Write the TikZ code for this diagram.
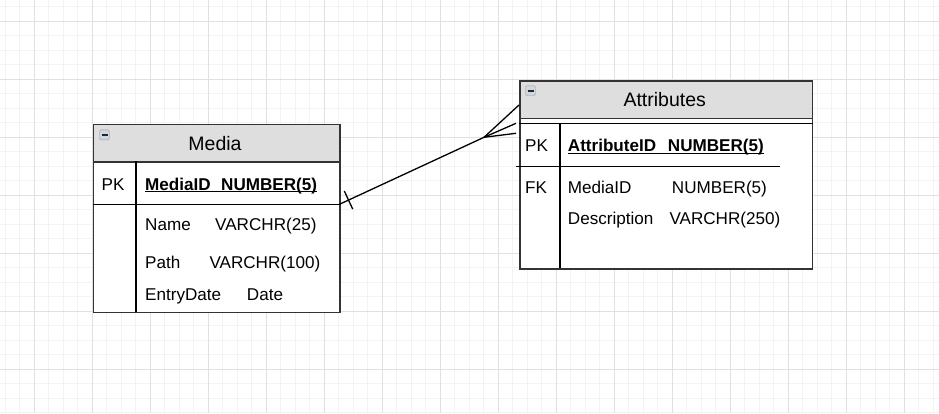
\documentclass[tikz,border=0pt]{standalone}
\usepackage{fontspec}
\setmainfont{Liberation Sans}
\usetikzlibrary{calc}
\definecolor{gridminor}{RGB}{243,243,243}
\definecolor{gridmajor}{RGB}{224,224,224}
\definecolor{headgrey}{RGB}{222,222,222}
\definecolor{frame}{RGB}{51,51,51}
\definecolor{iconfill}{RGB}{206,214,222}
\newcommand{\bodyfont}{\fontsize{17.1}{19}\selectfont}
\newcommand{\titlefont}{\fontsize{19.5}{21}\selectfont}
\tikzset{
  minorln/.style ={draw=gridminor, line width=1pt},
  majorln/.style ={draw=gridmajor, line width=1pt},
  tbl/.style     ={draw=frame, line width=1.6pt, fill=white, anchor=north west, inner sep=0pt},
  hdr/.style     ={draw=frame, line width=1.6pt, fill=headgrey, anchor=north west, inner sep=0pt},
  sep/.style     ={draw=black, line width=1.5pt},
  txt/.style     ={anchor=base west, inner sep=0pt, font=\bodyfont},
  btxt/.style    ={anchor=base west, inner sep=0pt, font=\bodyfont\bfseries},
  ttl/.style     ={anchor=base, inner sep=0pt, font=\titlefont},
  link/.style    ={draw=black, line width=1.3pt},
  icon/.style    ={draw=gray!80, fill=iconfill, rounded corners=1.5pt, minimum width=10pt,
                   minimum height=10pt, inner sep=0pt, anchor=north west},
}

\begin{document}
\begin{tikzpicture}[x=1pt,y=-1pt]
\useasboundingbox (0,0) rectangle (939,413);
% background grid
\foreach \i in {0,...,64} \draw[minorln] ({5+14.5*\i},0) -- ++(0,413);
\foreach \j in {0,...,28} \draw[minorln] (0,{6.8+14.5*\j}) -- ++(939,0);
\foreach \i in {0,...,15} \draw[majorln] ({34+58*\i},0) -- ++(0,413);
\foreach \j in {0,...,6} \draw[majorln] (0,{21.3+58*\j}) -- ++(939,0);

% Media table
\node[tbl, minimum width=246.5pt, minimum height=188pt] (mediabox) at (92.5,123.5) {};
\node[hdr, minimum width=246.5pt, minimum height=37.5pt] (mediahead) at (92.5,123.5) {};
\node[icon] (mediaicon) at (99.3,129.7) {};
\draw[line width=1.6pt, draw=black!85] ([xshift=2.2pt]mediaicon.west) -- ([xshift=-2.2pt]mediaicon.east);
\node[ttl] (mediatitle) at (215,150) {Media};
\coordinate (medsepL) at (92.5,204.5);
\coordinate (medsepR) at (339,204.5);
\draw[sep] (medsepL) -- (medsepR);
\draw[sep] (136,161) -- (136,311.5);
\node[txt] (mediapk) at (101.5,190) {PK};
\node[btxt] (mediaidname) at (145,190) {MediaID};
\node[btxt] (mediaidtype) at (221,190) {NUMBER(5)};
\draw[line width=1.1pt] ([yshift=-1.6pt]mediaidname.base west) -- ([yshift=-1.6pt]mediaidtype.base east);
\node[txt] (namecol) at (145,230) {Name};
\node[txt] (nametype) at (215,230) {VARCHR(25)};
\node[txt] (pathcol) at (145,268.3) {Path};
\node[txt] (pathtype) at (209.3,268.3) {VARCHR(100)};
\node[txt] (datecol) at (145,300) {EntryDate};
\node[txt] (datetype) at (246.7,300) {Date};

% Attributes table
\node[tbl, minimum width=292.5pt, minimum height=188pt] (attrbox) at (519,80) {};
\node[hdr, minimum width=292.5pt, minimum height=37.5pt] (attrhead) at (519,80) {};
\node[icon] (attricon) at (525.3,85.5) {};
\draw[line width=1.6pt, draw=black!85] ([xshift=2.2pt]attricon.west) -- ([xshift=-2.2pt]attricon.east);
\node[ttl] (attrtitle) at (664.7,106.7) {Attributes};
\draw[sep] (attrhead.south west |- 0,123.5) -- (attrhead.south east |- 0,123.5);
\draw[sep] (560,123.5) -- (560,268);
\draw[sep] (516,166.7) -- (780,166.7);
\node[txt] (attrpk) at (525,151.7) {PK};
\node[btxt] (attridname) at (567.7,151.7) {AttributeID};
\node[btxt] (attridtype) at (667.7,151.7) {NUMBER(5)};
\draw[line width=1.1pt] ([yshift=-1.6pt]attridname.base west) -- ([yshift=-1.6pt]attridtype.base east);
\node[txt] (attrfk) at (525,193.3) {FK};
\node[txt] (fkcol) at (567.7,193.3) {MediaID};
\node[txt] (fktype) at (671.7,193.3) {NUMBER(5)};
\node[txt] (desccol) at (567.7,224) {Description};
\node[txt] (desctype) at (669.3,224) {VARCHR(250)};

% one-to-many link
\coordinate (foot) at (484,137.3);
\draw[link] (medsepR) -- (foot);
\draw[link] (foot) -- (attrbox.west |- 0,105);
\draw[link] (foot) -- (516,123.3);
\draw[link] (foot) -- (516,133.3);
\coordinate (tick) at ($(medsepR)!10.5pt!(foot)$);
\draw[link] ($(tick)!10pt!90:(foot)$) -- ($(tick)!10pt!-90:(foot)$);
\end{tikzpicture}
\end{document}
